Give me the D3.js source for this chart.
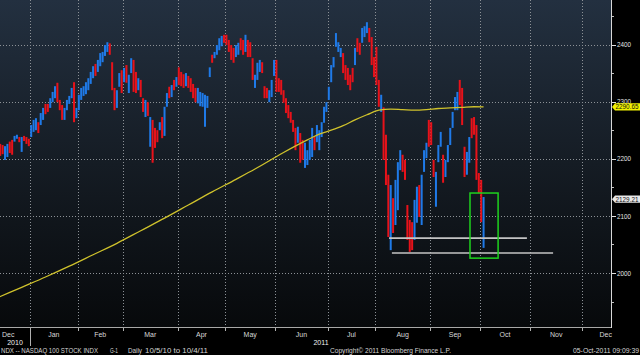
<!DOCTYPE html>
<html><head><meta charset="utf-8">
<script src="https://cdn.jsdelivr.net/npm/d3@7"></script>
<style>html,body{margin:0;padding:0;background:#000;overflow:hidden}</style>
</head><body><svg id="c" width="640" height="355"></svg>
<script>
// ---- data ----
const monthNames = ["Dec","Jan","Feb","Mar","Apr","May","Jun","Jul","Aug","Sep","Oct","Nov","Dec"];
const monthDays  = [14,20,19,23,20,21,22,20,23,21,21,22,22]; // trading days shown per month
const years = [{label:"2010", start:0, end:14},{label:"2011", start:14, end:268}];

const high = [
 2226,2226,2224,2222,2226,2230,2233,2240,2242,2238,2238,2240,2238,2235,
 2259,2268,2271,2264,2280,2289,2296,2296,2306,2317,2327,2333,2303,2294,2289,2303,2310,2324,2334,2289,
 2312,2324,2327,2334,2341,2352,2362,2366,2373,2385,2387,2399,2404,2402,2369,2324,2320,2350,2355,
 2359,2364,2347,2376,2373,2352,2341,2338,2306,2303,2299,2273,2268,2254,2250,2264,2273,2291,2315,2326,2329,2338,2343,
 2360,2352,2348,2350,2345,2341,2331,2324,2324,2317,2315,2312,2310,2360,2382,2387,2399,2411,2415,2417,
 2417,2408,2399,2394,2399,2403,2411,2408,2417,2408,2404,2376,2347,2368,2373,2369,2327,2324,2320,2338,2373,
 2373,2341,2338,2320,2306,2294,2282,2268,2254,2256,2245,2233,2228,2215,2233,2254,2238,2259,2250,2264,2291,2299,
 2326,2364,2378,2420,2404,2394,2385,2364,2359,2347,2359,2394,2411,2403,2429,2432,2439,2429,2413,2378,
 2396,2338,2312,2290,2242,2172,2154,2131,2163,2194,2215,2207,2198,2119,2093,2089,2128,2151,2154,2172,2215,2228,2268,
 2264,2198,2177,2224,2247,2207,2198,2224,2254,2282,2308,2317,2338,2324,2221,2212,2238,2271,2273,2259,2175,
 2163,2133
];
const low = [
 2205,2205,2208,2198,2203,2210,2207,2230,2235,2229,2212,2231,2226,2222,
 2238,2247,2250,2245,2259,2268,2278,2282,2289,2299,2306,2299,2285,2268,2268,2285,2296,2306,2264,2271,
 2285,2303,2310,2313,2320,2331,2341,2345,2352,2362,2369,2380,2387,2382,2320,2285,2289,2326,2315,
 2334,2333,2315,2350,2317,2315,2320,2308,2282,2273,2275,2221,2193,2219,2229,2250,2236,2240,2291,2306,2308,2320,2326,
 2329,2327,2324,2327,2324,2317,2306,2299,2297,2292,2291,2256,2289,2343,2368,2376,2382,2390,2397,2403,
 2399,2387,2373,2368,2378,2382,2390,2382,2387,2378,2378,2338,2324,2338,2352,2350,2306,2306,2299,2308,2345,
 2317,2317,2312,2298,2280,2271,2263,2247,2215,2228,2193,2198,2184,2189,2198,2203,2215,2229,2215,2238,2263,2282,
 2303,2334,2360,2396,2387,2378,2350,2338,2329,2320,2334,2364,2387,2382,2403,2413,2420,2404,2364,2343,
 2329,2291,2282,2198,2154,2063,2040,2070,2084,2110,2180,2177,2163,2058,2037,2040,2058,2088,2098,2084,2177,2201,2221,
 2224,2168,2116,2194,2221,2158,2168,2194,2224,2254,2285,2285,2294,2259,2168,2172,2193,2236,2242,2163,2140,
 2089,2044
];
const dir = (
 "rrrbbrrbbrbrrr" +
 "bbbrbbrrbbbrrrbbbbrb" +
 "bbbbbbbrbbbbbrrrbbr" +
 "brbbrrbrrbrbrrrbrbbrbrb" +
 "rrrbrrrrbbbbbbrbbbbr" +
 "rrrrbbrrbrrrbbbrrrbbb" +
 "rrrrrrrrrbrrbbbbrbbbbb" +
 "bbbbbbrrrrrbrrbbbrrr" +
 "rrbrrrbrbbbrrrrrbbrbbbr" +
 "rrbbbrbbbbbbrrrbbrrrr" +
 "rb").split("");

// 200-day moving average, read at sample days
const maIdx = [0,10,20,30,40,50,60,70,80,90,100,108,120,130,135,140,145,150,155,160,165,170,175,180,185,190,195,200,204];
const maVal = [1957,1975,1993,2012,2032,2052,2074,2096,2119,2142,2164,2182,2211,2233,2243,2250,2258,2268,2277,2285,2287,2286,2285,2286,2288,2289,2290,2291,2290.65];

const yTicks = [2000,2100,2200,2300,2400];
const yMinor = [1950,2050,2150,2250,2350,2450];
const lastPrice = 2129.21;
const maLast = 2290.65;
const supportLines = [{from:164.3, to:222.2, price:2061},{from:165.5, to:233.2, price:2035}];
const boxAnn = {from:198.3, to:210.1, top:2140, bottom:2026};

// ---- layout ----
const W = 640, H = 355, plotR = 612, plotB = 328;
const svg = d3.select("#c");
const x = d3.scaleLinear().domain([13.5, 202.5]).range([30, 480]);
const y = d3.scaleLinear().domain([2000, 2400]).range([273, 44.5]);
const FONT = "'Liberation Sans', Arial, sans-serif";

svg.append("rect").attr("width", W).attr("height", H).attr("fill", "#000");
const defs = svg.append("defs");
const g = defs.append("linearGradient").attr("id","bg").attr("x1",0).attr("y1",0).attr("x2",0).attr("y2",1);
g.append("stop").attr("offset","0").attr("stop-color","#233040");
g.append("stop").attr("offset","0.5").attr("stop-color","#151c24");
g.append("stop").attr("offset","1").attr("stop-color","#07090b");
defs.append("clipPath").attr("id","clip").append("rect").attr("width", plotR).attr("height", plotB);

svg.append("rect").attr("width", plotR).attr("height", plotB).attr("fill", "url(#bg)");

// month boundaries
const starts = [];
let acc = 0;
monthDays.forEach(d => { starts.push(acc); acc += d; });
const bounds = starts.slice(1).map(s => x(s - 0.5));

const grid = svg.append("g").attr("stroke", "#8c9196").attr("stroke-width", 1).attr("stroke-dasharray", "1,2");
grid.selectAll(".h").data(yTicks).join("line")
  .attr("x1", 0).attr("x2", plotR).attr("y1", d => Math.round(y(d)) + 0.5).attr("y2", d => Math.round(y(d)) + 0.5);
grid.selectAll(".v").data(bounds).join("line")
  .attr("x1", d => Math.round(d) + 0.5).attr("x2", d => Math.round(d) + 0.5).attr("y1", 0).attr("y2", plotB);

// bars
const plot = svg.append("g").attr("clip-path", "url(#clip)");
plot.selectAll("rect.bar").data(high.map((h, i) => ({i, h, l: low[i], d: dir[i]}))).join("rect")
  .attr("class", "bar")
  .attr("x", d => x(d.i) - 1).attr("width", 2)
  .attr("y", d => y(d.h)).attr("height", d => Math.max(1, y(d.l) - y(d.h)))
  .attr("fill", d => d.d === "b" ? "#1f7ae8" : "#e8121a");

// moving average
const line = d3.line().x(d => x(d[0])).y(d => y(d[1])).curve(d3.curveMonotoneX);
plot.append("path").datum(maIdx.map((v, i) => [v, maVal[i]]))
  .attr("d", line).attr("fill", "none").attr("stroke", "#cfc22c").attr("stroke-width", 1.3);

// annotations
plot.selectAll("line.sup").data(supportLines).join("line")
  .attr("x1", d => x(d.from)).attr("x2", d => x(d.to))
  .attr("y1", d => y(d.price)).attr("y2", d => y(d.price))
  .attr("stroke", "#c4c4c4").attr("stroke-width", 1.7);
plot.append("rect")
  .attr("x", x(boxAnn.from)).attr("width", x(boxAnn.to) - x(boxAnn.from))
  .attr("y", y(boxAnn.top)).attr("height", y(boxAnn.bottom) - y(boxAnn.top))
  .attr("fill", "none").attr("stroke", "#1ed21e").attr("stroke-width", 1.5);

// frame
svg.append("line").attr("x1", 0).attr("x2", plotR).attr("y1", plotB - 0.5).attr("y2", plotB - 0.5)
  .attr("stroke", "#a8a8a8");
svg.append("line").attr("x1", plotR - 0.5).attr("x2", plotR - 0.5).attr("y1", 0).attr("y2", plotB)
  .attr("stroke", "#d8d8d8");

// y axis ticks + labels
svg.selectAll("line.yt").data(yTicks).join("line")
  .attr("x1", plotR).attr("x2", plotR + 4).attr("y1", d => Math.round(y(d)) + 0.5).attr("y2", d => Math.round(y(d)) + 0.5)
  .attr("stroke", "#e0e0e0");
svg.selectAll("line.ym").data(yMinor).join("line")
  .attr("x1", plotR).attr("x2", plotR + 2).attr("y1", d => Math.round(y(d)) + 0.5).attr("y2", d => Math.round(y(d)) + 0.5)
  .attr("stroke", "#c0c0c0");
svg.selectAll("text.yl").data(yTicks).join("text")
  .attr("x", plotR + 5).attr("y", d => y(d)).attr("dy", "0.36em")
  .attr("font-family", FONT).attr("font-size", 7.5).attr("fill", "#e4e4e4")
  .attr("textLength", 14).attr("lengthAdjust", "spacingAndGlyphs")
  .text(d => d);

// price labels
function tag(val, fill, text) {
  const yy = y(val);
  svg.append("path")
    .attr("d", `M${plotR},${yy} L${plotR + 3},${yy - 3.6} L${W},${yy - 3.6} L${W},${yy + 3.6} L${plotR + 3},${yy + 3.6} Z`)
    .attr("fill", fill);
  svg.append("text").attr("x", plotR + 3.5).attr("y", yy).attr("dy", "0.36em")
    .attr("font-family", FONT).attr("font-size", 7).attr("fill", "#111")
    .attr("textLength", 23).attr("lengthAdjust", "spacingAndGlyphs")
    .text(text);
}
tag(maLast, "#f2f200", maLast.toFixed(2));
tag(lastPrice, "#e8e8e8", lastPrice.toFixed(2));

// x axis ticks
svg.selectAll("line.xt").data(bounds).join("line")
  .attr("x1", d => Math.round(d) + 0.5).attr("x2", d => Math.round(d) + 0.5).attr("y1", plotB).attr("y2", plotB + 3)
  .attr("stroke", "#b0b0b0");
// month labels
const mlabels = monthNames.map((m, k) => {
  const a = k === 0 ? 0 : x(starts[k] - 0.5);
  const b = Math.min(plotR, x(starts[k] + monthDays[k] - 0.5));
  return {m, k, cx: (a + b) / 2};
});
svg.selectAll("text.ml").data(mlabels).join("text")
  .attr("x", d => d.k === 0 ? 2 : (d.k === monthNames.length - 1 ? plotR : d.cx))
  .attr("text-anchor", d => d.k === 0 ? "start" : (d.k === monthNames.length - 1 ? "end" : "middle"))
  .attr("y", 336.5)
  .attr("font-family", FONT).attr("font-size", 7).attr("fill", "#d8d8d8")
  .text(d => d.m);
// year labels
svg.append("line").attr("x1", Math.round(x(13.5)) + 0.5).attr("x2", Math.round(x(13.5)) + 0.5)
  .attr("y1", 331).attr("y2", 346).attr("stroke", "#b0b0b0");
svg.selectAll("text.yr").data(years).join("text")
  .attr("x", d => {
    const a = Math.max(0, x(d.start - 0.5)), b = Math.min(plotR, x(d.end - 0.5));
    return (a + b) / 2;
  })
  .attr("text-anchor", "middle").attr("y", 344.5)
  .attr("font-family", FONT).attr("font-size", 7).attr("fill", "#f0f0f0")
  .text(d => d.label);

// footer
const footer = [
  {t:"NDX -- NASDAQ 100 STOCK INDX", x:1, len:97},
  {t:"G-1", x:110, len:8},
  {t:"Daily", x:128, len:14},
  {t:"10/5/10 to 10/4/11", x:145, len:63},
  {t:"Copyright\u00A9 2011 Bloomberg Finance L.P.", x:330, len:121},
  {t:"05-Oct-2011 09:09:39", x:573, len:66}
];
svg.selectAll("text.ft").data(footer).join("text")
  .attr("x", d => d.x).attr("y", 353)
  .attr("font-family", FONT).attr("font-size", 6.5).attr("fill", "#d4d4d4")
  .attr("textLength", d => d.len).attr("lengthAdjust", "spacingAndGlyphs")
  .text(d => d.t);
</script>
</body></html>
